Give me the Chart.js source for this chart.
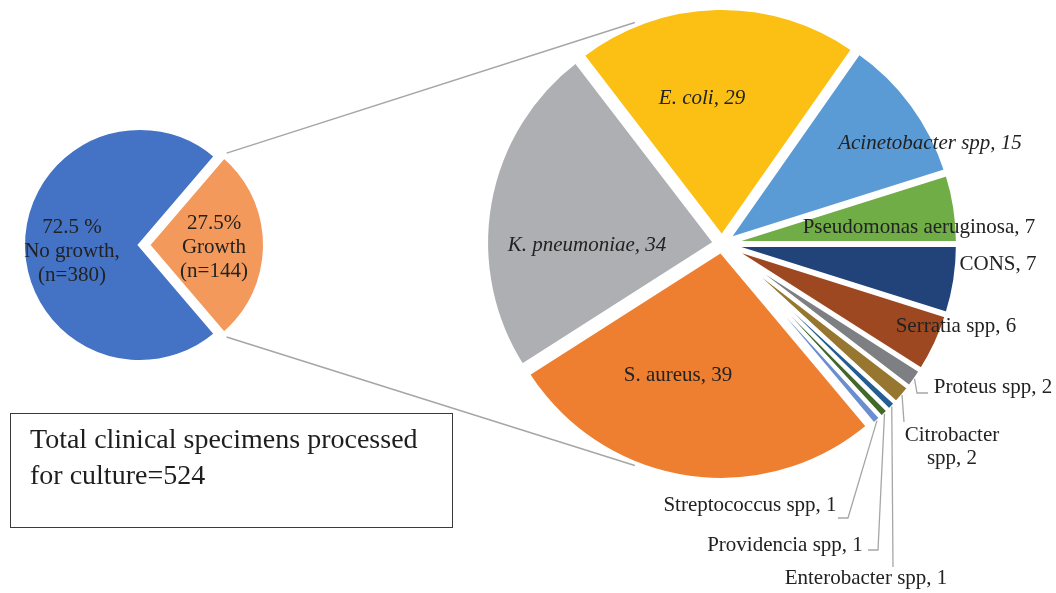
<!DOCTYPE html>
<html>
<head>
<meta charset="utf-8">
<script src="https://cdn.jsdelivr.net/npm/chart.js@4.4.0/dist/chart.umd.min.js"></script>
<style>
  html, body { margin: 0; padding: 0; background: #fff; }
  #wrap { position: relative; width: 1056px; height: 593px; overflow: hidden; }
  #wrap canvas { position: absolute; left: 0; top: 0; }
  #note {
    position: absolute; left: 10px; top: 413px; width: 443px; height: 115px;
    box-sizing: border-box; border: 1.3px solid #3a3a3a;
    padding: 7px 0 0 19px;
    font: 28px "Liberation Serif", "Times New Roman", serif; line-height: 36px; color: #1e1e1e;
  }
</style>
</head>
<body>
<div id="wrap">
  <canvas id="pieMain" width="1056" height="593"></canvas>
  <canvas id="pieGrowth" width="1056" height="593"></canvas>
  <div id="note">Total clinical specimens processed<br>for culture=524</div>
</div>
<script>
// culture result (first pie)
const cultureLabels = ["No growth", "Growth"];
const cultureCounts = [380, 144];
const cultureText = [["72.5 %", "No growth,", "(n=380)"], ["27.5%", "Growth", "(n=144)"]];

// isolates among growth (second pie), clockwise from the top
const isolateNames = ["E. coli", "Acinetobacter spp", "Pseudomonas aeruginosa", "CONS", "Serratia spp",
  "Proteus spp", "Citrobacter spp", "Enterobacter spp", "Providencia spp", "Streptococcus spp",
  "S. aureus", "K. pneumoniae"];
const isolateCounts = [29, 15, 7, 7, 6, 2, 2, 1, 1, 1, 39, 34];
const italicNames = ["E. coli", "Acinetobacter spp", "K. pneumoniae"];

// styles
const cultureColors = ["#4472C4", "#F2995B"];
const isolateColors = ["#FBC013", "#5B9BD5", "#70AD47", "#22437A", "#9E4821",
  "#7E7F82", "#977630", "#255E91", "#43682B", "#6A8ED0", "#EE7F31", "#AEAFB2"];
const FONT = '"Liberation Serif", "Times New Roman", serif';
const TEXT = "#222";
const LEADER = "#A6A6A6";

// label anchors, offsets from the pie centre
const cultureLabelAt = [{ dx: -68, dy: 6 }, { dx: 74, dy: 2 }];
const isolateLabelAt = [
  { dx: -20, dy: -146 },
  { dx: 208, dy: -101 },
  { dx: 197, dy: -17 },
  { dx: 276, dy: 20 },
  { dx: 234, dy: 82 },
  { dx: 271, dy: 143, leader: [[195, 149], [206, 149]] },
  { dx: 230, dy: 203, wrap: true, leader: [[182, 178]] },
  { dx: 144, dy: 334, leader: [[171, 323]] },
  { dx: 63, dy: 301, leader: [[156, 306], [146, 306]] },
  { dx: 28, dy: 261, leader: [[126, 274], [116, 274]] },
  { dx: -44, dy: 131 },
  { dx: -135, dy: 1 }
];

function explodedCentre(arc) {
  const mid = (arc.startAngle + arc.endAngle) / 2;
  const off = arc.options.offset || 0;
  return { x: arc.x + Math.cos(mid) * off, y: arc.y + Math.sin(mid) * off, mid: mid, off: off };
}

// draws every slice pulled out from the centre, with a white rim
const explodedPie = {
  id: "explodedPie",
  beforeDatasetDraw(chart, args) {
    const ctx = chart.ctx;
    args.meta.data.forEach(arc => {
      const c = explodedCentre(arc);
      ctx.save();
      ctx.beginPath();
      ctx.moveTo(c.x, c.y);
      ctx.arc(c.x, c.y, arc.outerRadius, arc.startAngle, arc.endAngle);
      ctx.closePath();
      ctx.fillStyle = arc.options.backgroundColor;
      ctx.fill();
      ctx.lineWidth = arc.options.borderWidth;
      ctx.strokeStyle = arc.options.borderColor;
      ctx.stroke();
      ctx.restore();
    });
    return false;
  }
};

function drawLines(ctx, lines, x, y, lh) {
  const top = y - (lines.length - 1) * lh / 2;
  lines.forEach((t, i) => ctx.fillText(t, x, top + i * lh));
}

const cultureLabelsPlugin = {
  id: "cultureLabels",
  afterDatasetsDraw(chart) {
    const ctx = chart.ctx;
    const arcs = chart.getDatasetMeta(0).data;
    ctx.save();
    ctx.font = "21px " + FONT;
    ctx.fillStyle = TEXT;
    ctx.textAlign = "center";
    ctx.textBaseline = "middle";
    arcs.forEach((arc, i) => {
      const p = cultureLabelAt[i];
      drawLines(ctx, cultureText[i], arc.x + p.dx, arc.y + p.dy, 24);
    });
    ctx.restore();
  }
};

const isolateLabelsPlugin = {
  id: "isolateLabels",
  afterDatasetsDraw(chart) {
    const ctx = chart.ctx;
    const arcs = chart.getDatasetMeta(0).data;
    ctx.save();
    arcs.forEach((arc, i) => {
      const p = isolateLabelAt[i];
      const name = chart.data.labels[i];
      const text = name + ", " + chart.data.datasets[0].data[i];
      if (p.leader) {
        const c = explodedCentre(arc);
        const r = arc.outerRadius - 1;
        ctx.beginPath();
        ctx.moveTo(c.x + Math.cos(c.mid) * r, c.y + Math.sin(c.mid) * r);
        p.leader.forEach(pt => ctx.lineTo(arc.x + pt[0], arc.y + pt[1]));
        ctx.lineWidth = 1.3;
        ctx.strokeStyle = LEADER;
        ctx.stroke();
      }
      let lines = [text];
      if (p.wrap) {
        const k = text.indexOf(" ");
        lines = [text.slice(0, k), text.slice(k + 1)];
      }
      ctx.font = (italicNames.includes(name) ? "italic " : "") + "21px " + FONT;
      ctx.fillStyle = TEXT;
      ctx.textAlign = "center";
      ctx.textBaseline = "middle";
      drawLines(ctx, lines, arc.x + p.dx, arc.y + p.dy, 23);
    });
    ctx.restore();
  }
};

const common = {
  responsive: false,
  animation: false,
  events: [],
  plugins: { legend: { display: false }, tooltip: { enabled: false } }
};

const mainChart = new Chart(document.getElementById("pieMain"), {
  type: "pie",
  data: {
    labels: cultureLabels,
    datasets: [{
      data: cultureCounts,
      backgroundColor: cultureColors,
      borderColor: "#ffffff",
      borderWidth: 4,
      offset: [0, 8]
    }]
  },
  options: Object.assign({}, common, {
    rotation: 139.5,
    radius: 117,
    layout: { padding: { left: 0, right: 776, top: 0, bottom: 103 } }
  }),
  plugins: [explodedPie, cultureLabelsPlugin]
});

// grey lines joining the growth slice to the breakdown pie
const connectors = {
  id: "connectors",
  afterDatasetsDraw(chart) {
    const g = mainChart.getDatasetMeta(0).data[1];
    const gc = explodedCentre(g);
    const r0 = g.outerRadius + 4;
    const p = chart.getDatasetMeta(0).data[0];
    const r1 = p.outerRadius + p.options.offset + 2;
    const ends = [[g.startAngle, -21.5], [g.endAngle, 201.5]];
    const ctx = chart.ctx;
    ctx.save();
    ctx.lineWidth = 1.5;
    ctx.strokeStyle = LEADER;
    ends.forEach(([a0, deg]) => {
      const a1 = deg * Math.PI / 180 - Math.PI / 2;
      ctx.beginPath();
      ctx.moveTo(gc.x + Math.cos(a0) * r0, gc.y + Math.sin(a0) * r0);
      ctx.lineTo(p.x + Math.cos(a1) * r1, p.y + Math.sin(a1) * r1);
      ctx.stroke();
    });
    ctx.restore();
  }
};

const growthChart = new Chart(document.getElementById("pieGrowth"), {
  type: "pie",
  data: {
    labels: isolateNames,
    datasets: [{
      data: isolateCounts,
      backgroundColor: isolateColors,
      borderColor: "#ffffff",
      borderWidth: 4,
      offset: 7
    }]
  },
  options: Object.assign({}, common, {
    rotation: -37.5,
    radius: 229,
    layout: { padding: { left: 388, right: 0, top: 0, bottom: 105 } }
  }),
  plugins: [explodedPie, isolateLabelsPlugin, connectors]
});
</script>
</body>
</html>
